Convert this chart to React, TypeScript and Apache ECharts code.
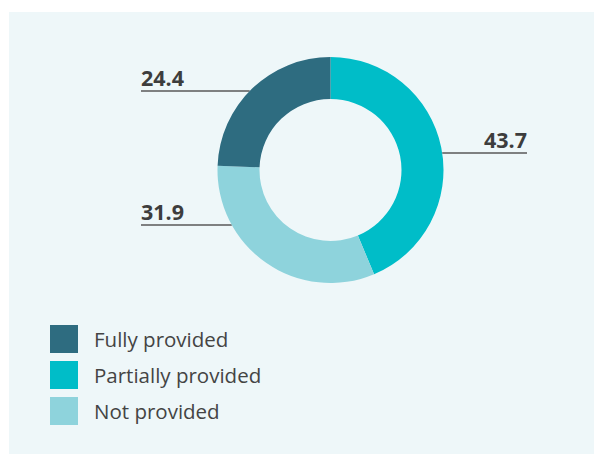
import React, { useEffect, useRef } from "react";
import * as echarts from "echarts";

const categories = ["Partially provided", "Not provided", "Fully provided"];
const values = [43.7, 31.9, 24.4];
const colors = ["#00bdc8", "#8ed3dc", "#2e6c80"];
const legendOrder = ["Fully provided", "Partially provided", "Not provided"];

// label leader-line heights (layout only)
const labelLineY = [153, 225, 91];
const labelSide = [1, -1, -1];

const CX = 330.5;
const CY = 170;
const R_OUT = 113;
const R_IN = 71;
const LEFT_END = 141;
const RIGHT_END = 527;

export default function App() {
  const ref = useRef<HTMLDivElement>(null);
  useEffect(() => {
    document.body.style.margin = "0";
    const chart = echarts.init(ref.current!, null, { renderer: "svg" });
    chart.setOption({
      animation: false,
      graphic: [
        {
          type: "rect",
          z: -10,
          silent: true,
          shape: { x: 9, y: 12, width: 585, height: 442 },
          style: { fill: "#eef7f9" },
        },
      ],
      legend: {
        orient: "vertical",
        left: 50,
        top: 325,
        padding: 0,
        itemWidth: 28,
        itemHeight: 28,
        itemGap: 8,
        icon: "rect",
        data: legendOrder,
        textStyle: {
          fontFamily: "Open Sans",
          fontSize: 20.5,
          color: "#444444",
          padding: [0, 0, 0, 11],
        },
      },
      series: [
        {
          type: "pie",
          center: [CX, CY],
          radius: [R_IN, R_OUT],
          startAngle: 90,
          clockwise: true,
          avoidLabelOverlap: false,
          itemStyle: { borderWidth: 0 },
          data: categories.map((name, i) => ({
            name,
            value: values[i],
            itemStyle: { color: colors[i] },
          })),
          label: {
            show: true,
            position: "outside",
            formatter: (p: any) => p.value.toFixed(1),
            fontFamily: "Open Sans",
            fontWeight: "bold",
            fontSize: 21.5,
            lineHeight: 21.5,
            color: "#3d3d3d",
          },
          labelLine: {
            show: true,
            lineStyle: { color: "#595959", width: 1.5 },
          },
          labelLayout: (params: any) => {
            const i = params.dataIndex;
            const ly = labelLineY[i];
            const side = labelSide[i];
            const dx = Math.sqrt(R_OUT * R_OUT - (ly - CY) * (ly - CY));
            const edgeX = CX + side * dx;
            const endX = side < 0 ? LEFT_END : RIGHT_END;
            return {
              x: endX,
              y: ly - 3,
              align: side < 0 ? "left" : "right",
              verticalAlign: "bottom",
              labelLinePoints: [
                [edgeX, ly],
                [edgeX, ly],
                [endX, ly],
              ],
            };
          },
          emphasis: { disabled: true },
        },
      ],
    });
    return () => chart.dispose();
  }, []);
  return <div ref={ref} style={{ width: 594, height: 454, background: "#ffffff" }} />;
}
